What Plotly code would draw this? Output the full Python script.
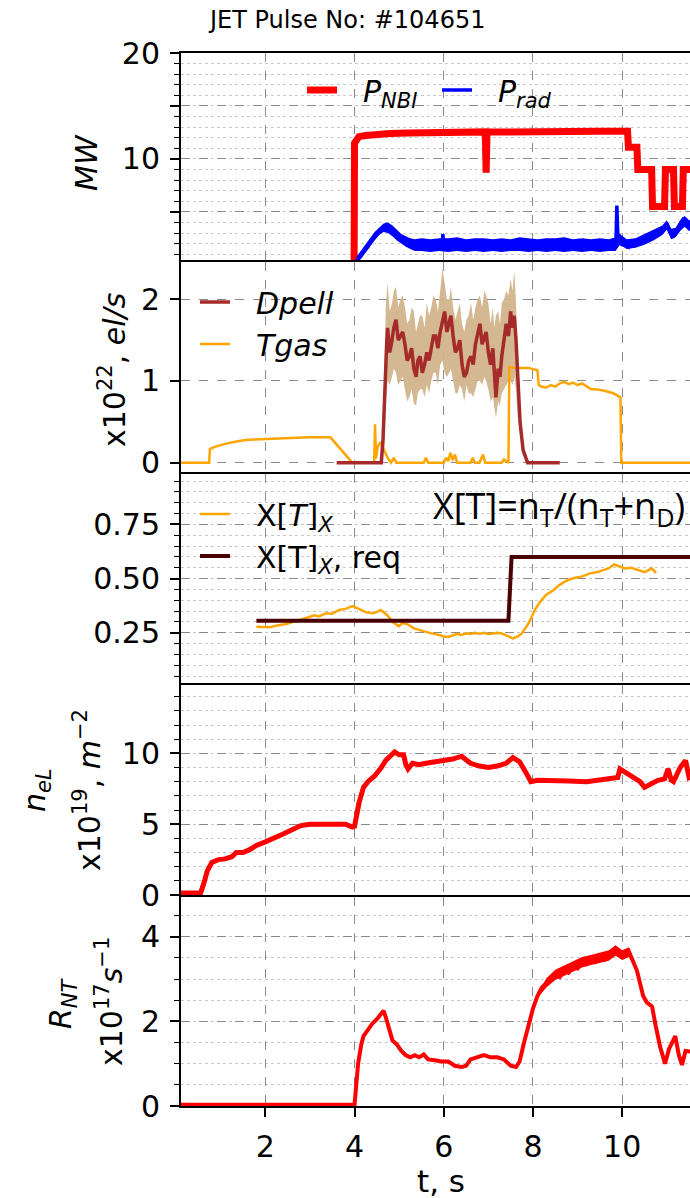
import plotly.graph_objects as go

# ---------------- data ----------------
P_NBI = [(0.1, 0), (3.99, 0), (4.0, 11.5), (4.04, 11.9), (4.1, 12.1), (4.25, 12.2), (4.5, 12.35),
         (4.8, 12.4), (5.2, 12.45), (5.6, 12.5), (6.0, 12.5), (6.5, 12.55), (6.93, 12.55), (6.95, 8.7),
         (6.97, 12.55), (7.5, 12.55), (8.0, 12.6), (8.5, 12.65), (9.0, 12.6), (9.5, 12.6), (10.12, 12.6),
         (10.14, 11.1), (10.33, 11.1), (10.35, 9.0), (10.66, 9.0), (10.68, 5.5), (10.95, 5.5), (10.97, 9.0),
         (11.15, 9.0), (11.17, 5.5), (11.35, 5.5), (11.37, 9.0), (11.6, 9.0)]
P_RAD = [(0.1, 0.0), (0.7, 0.0), (0.72, 0.2), (4.0, 0.2), (4.1, 0.6), (4.2, 1.1), (4.3, 1.7), (4.4, 2.4),
         (4.5, 2.8), (4.6, 3.3), (4.7, 3.7), (4.75, 3.3), (4.8, 3.5), (4.9, 2.9), (5.0, 2.7), (5.1, 2.3),
         (5.2, 2.2), (5.3, 1.7), (5.35, 2.2), (5.4, 1.6), (5.5, 2.1), (5.55, 1.5), (5.6, 2.0), (5.7, 1.5),
         (5.8, 2.1), (5.85, 1.6), (5.9, 2.0), (5.96, 1.6), (5.98, 2.9), (6.0, 1.8), (6.05, 1.5), (6.1, 2.1),
         (6.2, 1.6), (6.25, 2.2), (6.3, 1.5), (6.4, 2.1), (6.45, 1.6), (6.5, 2.0), (6.6, 1.5), (6.65, 2.1),
         (6.7, 1.6), (6.8, 2.0), (6.85, 1.5), (6.9, 2.2), (7.0, 1.5), (7.05, 2.0), (7.1, 1.6), (7.2, 2.1),
         (7.25, 1.5), (7.3, 2.1), (7.4, 1.6), (7.45, 2.2), (7.5, 1.6), (7.6, 2.1), (7.65, 1.6), (7.7, 2.3),
         (7.8, 1.6), (7.85, 2.1), (7.9, 1.7), (8.0, 2.0), (8.05, 1.5), (8.1, 2.1), (8.2, 1.6), (8.25, 2.2),
         (8.3, 1.6), (8.4, 2.0), (8.45, 1.5), (8.5, 2.1), (8.6, 1.6), (8.65, 2.2), (8.7, 1.6), (8.8, 2.1),
         (8.85, 1.5), (8.9, 2.0), (9.0, 1.6), (9.05, 2.2), (9.1, 1.6), (9.2, 2.0), (9.25, 1.5), (9.3, 2.1),
         (9.4, 1.6), (9.45, 2.1), (9.5, 1.6), (9.6, 2.0), (9.65, 1.5), (9.7, 2.1), (9.8, 1.6), (9.86, 2.0),
         (9.88, 5.6), (9.9, 3.0), (9.95, 2.3), (10.0, 1.8), (10.05, 2.2), (10.15, 1.7), (10.2, 2.1),
         (10.3, 1.9), (10.4, 2.4), (10.5, 2.3), (10.6, 2.8), (10.7, 2.7), (10.8, 3.2), (10.9, 3.3),
         (11.0, 3.9), (11.06, 3.2), (11.12, 2.6), (11.2, 3.1), (11.3, 3.9), (11.38, 4.4), (11.45, 3.7),
         (11.52, 3.9), (11.6, 3.8)]
# noise envelope of P_rad (min / max of the fast signal)
PRAD_ENV_T = [4.05, 4.15, 4.25, 4.35, 4.45, 4.55, 4.65, 4.75, 4.85, 4.95, 5.05, 5.15, 5.25, 5.35, 5.5,
              5.7, 5.9, 6.1, 6.3, 6.5, 6.7, 6.9, 7.1, 7.3, 7.5, 7.7, 7.9, 8.1, 8.3, 8.5, 8.7, 8.9, 9.1,
              9.3, 9.5, 9.7, 9.85, 9.95, 10.1, 10.3, 10.5, 10.7, 10.9, 11.0, 11.1, 11.2, 11.3, 11.4,
              11.5, 11.6]
PRAD_ENV_HI = [0.8, 1.4, 2.0, 2.6, 3.1, 3.5, 3.9, 4.0, 3.7, 3.3, 2.9, 2.7, 2.5, 2.4, 2.5, 2.4, 2.5,
               2.5, 2.6, 2.4, 2.5, 2.5, 2.4, 2.5, 2.4, 2.6, 2.5, 2.4, 2.5, 2.5, 2.6, 2.4, 2.5, 2.4,
               2.5, 2.4, 2.6, 2.9, 2.4, 2.5, 2.9, 3.3, 3.7, 4.2, 3.4, 3.5, 4.2, 4.6, 4.2, 4.2]
PRAD_ENV_LO = [0.3, 0.6, 1.2, 1.8, 2.3, 2.8, 3.1, 3.0, 2.7, 2.3, 2.0, 1.7, 1.5, 1.3, 1.3, 1.2, 1.3,
               1.2, 1.3, 1.2, 1.3, 1.2, 1.3, 1.2, 1.3, 1.3, 1.2, 1.3, 1.2, 1.3, 1.2, 1.3, 1.2, 1.3,
               1.2, 1.3, 1.3, 1.9, 1.5, 1.6, 1.9, 2.3, 2.8, 3.3, 2.4, 2.6, 3.2, 3.6, 3.2, 3.3]

DPELL = [(3.6, 0), (4.6, 0), (4.64, 0.3), (4.68, 1.0), (4.72, 1.45), (4.74, 1.65), (4.79, 1.35), (4.84, 1.5),
         (4.88, 1.65), (4.93, 1.75), (4.98, 1.5), (5.03, 1.55), (5.08, 1.6), (5.13, 1.45), (5.18, 1.25),
         (5.23, 1.3), (5.28, 1.4), (5.33, 1.15), (5.38, 1.05), (5.42, 1.25), (5.47, 1.3), (5.52, 1.1),
         (5.57, 1.2), (5.62, 1.35), (5.67, 1.25), (5.72, 1.4), (5.77, 1.55), (5.82, 1.55), (5.87, 1.4),
         (5.92, 1.6), (5.97, 1.75), (6.02, 1.85), (6.07, 1.6), (6.12, 1.7), (6.16, 1.8), (6.21, 1.55),
         (6.26, 1.35), (6.31, 1.4), (6.36, 1.5), (6.41, 1.2), (6.46, 1.05), (6.51, 1.1), (6.56, 1.25),
         (6.61, 1.3), (6.66, 1.2), (6.71, 1.45), (6.76, 1.6), (6.81, 1.7), (6.86, 1.45), (6.91, 1.55),
         (6.95, 1.6), (7.00, 1.35), (7.05, 1.2), (7.10, 1.4), (7.13, 1.1), (7.17, 0.8), (7.22, 1.15),
         (7.26, 1.05), (7.30, 1.3), (7.35, 1.5), (7.40, 1.7), (7.45, 1.55), (7.50, 1.85), (7.54, 1.65),
         (7.58, 1.8), (7.62, 1.5), (7.66, 1.0), (7.71, 0.5), (7.78, 0.15), (7.88, 0.0), (8.6, 0)]
BAND_T = [4.66, 4.70, 4.74, 4.79, 4.84, 4.88, 4.93, 4.98, 5.03, 5.08, 5.13, 5.18, 5.23, 5.28, 5.33, 5.38,
          5.42, 5.47, 5.52, 5.57, 5.62, 5.67, 5.72, 5.77, 5.82, 5.87, 5.92, 5.97, 6.02, 6.07, 6.12, 6.16,
          6.21, 6.26, 6.31, 6.36, 6.41, 6.46, 6.51, 6.56, 6.61, 6.66, 6.71, 6.76, 6.81, 6.86, 6.91, 6.95,
          7.00, 7.05, 7.10, 7.13, 7.17, 7.22, 7.26, 7.30, 7.35, 7.40, 7.45, 7.50, 7.54, 7.58, 7.62, 7.66]
BAND_HI = [0.8, 1.9, 2.2, 1.85, 1.95, 2.1, 2.15, 1.9, 2.0, 2.05, 1.9, 1.7, 1.75, 1.9, 1.85, 1.6,
           1.7, 1.8, 1.8, 1.65, 1.95, 1.8, 1.9, 2.05, 2.0, 1.85, 2.1, 2.38, 2.2, 2.0, 2.0, 2.15,
           1.9, 1.75, 1.85, 1.95, 1.7, 1.6, 1.75, 1.8, 1.95, 1.75, 1.9, 2.0, 2.05, 1.9, 2.1, 2.05,
           1.95, 1.7, 1.9, 1.65, 1.8, 1.85, 1.7, 1.95, 2.0, 2.1, 2.05, 2.25, 2.1, 2.35, 1.95, 1.3]
BAND_LO = [0.1, 0.7, 1.0, 0.95, 1.05, 1.15, 1.1, 0.95, 1.0, 1.05, 0.9, 0.75, 0.8, 0.9, 0.72, 0.7,
           0.85, 0.9, 0.9, 0.8, 0.95, 0.85, 1.0, 1.1, 1.1, 0.95, 1.2, 1.25, 1.1, 1.05, 1.1, 1.15,
           1.0, 0.85, 0.85, 0.95, 0.9, 0.75, 0.95, 0.85, 0.85, 0.8, 0.9, 1.0, 1.0, 0.95, 1.05, 1.0,
           0.9, 0.75, 0.8, 0.7, 0.55, 0.75, 0.7, 0.85, 0.9, 0.95, 1.0, 1.0, 0.95, 1.05, 0.9, 0.5]
TGAS = [(0.1, 0), (0.74, 0), (0.76, 0.17), (0.9, 0.2), (1.1, 0.23), (1.35, 0.26), (1.6, 0.28), (2.0, 0.29),
        (2.5, 0.3), (3.0, 0.31), (3.46, 0.31), (3.95, 0.0), (4.44, 0.0), (4.46, 0.47), (4.48, 0.05),
        (4.52, 0.2), (4.58, 0.25), (4.65, 0.17), (4.75, 0.05), (4.82, 0.0), (4.88, 0.06), (4.94, 0.0),
        (5.55, 0.0), (5.6, 0.06), (5.65, 0.0), (6.0, 0.0), (6.05, 0.06), (6.1, 0.02), (6.15, 0.12),
        (6.2, 0.03), (6.25, 0.1), (6.3, 0.0), (6.6, 0.0), (6.65, 0.06), (6.7, 0.0), (6.8, 0.0), (6.88, 0.1),
        (6.93, 0.0), (7.3, 0.0), (7.35, 0.04), (7.45, 0.0), (7.47, 1.17), (7.6, 1.16), (7.9, 1.16),
        (8.1, 1.13), (8.13, 0.95), (8.2, 0.93), (8.3, 0.92), (8.4, 0.95), (8.5, 0.93), (8.6, 0.97),
        (8.7, 0.99), (8.8, 0.96), (8.9, 0.98), (9.0, 0.95), (9.1, 0.97), (9.2, 0.93), (9.3, 0.9), (9.4, 0.9),
        (9.6, 0.88), (9.8, 0.85), (9.96, 0.8), (9.98, 0.0), (11.6, 0.0)]

XT = [(1.8, 0.278), (2.1, 0.275), (2.3, 0.285), (2.47, 0.29), (2.7, 0.305), (2.96, 0.32), (3.1, 0.33),
      (3.2, 0.325), (3.36, 0.34), (3.5, 0.338), (3.65, 0.355), (3.8, 0.36), (3.95, 0.373), (4.05, 0.365),
      (4.15, 0.355), (4.25, 0.345), (4.39, 0.34), (4.5, 0.345), (4.59, 0.355), (4.74, 0.33), (4.85, 0.3),
      (4.99, 0.28), (5.08, 0.295), (5.18, 0.29), (5.33, 0.27), (5.5, 0.26), (5.6, 0.255), (5.72, 0.247),
      (5.9, 0.24), (6.0, 0.232), (6.12, 0.232), (6.3, 0.245), (6.4, 0.24), (6.51, 0.247), (6.6, 0.244),
      (6.7, 0.25), (6.8, 0.245), (6.91, 0.25), (7.0, 0.243), (7.1, 0.245), (7.2, 0.25), (7.3, 0.247),
      (7.45, 0.235), (7.55, 0.224), (7.65, 0.232), (7.75, 0.247), (7.9, 0.293), (8.04, 0.355),
      (8.15, 0.39), (8.29, 0.424), (8.45, 0.445), (8.59, 0.47), (8.75, 0.49), (8.88, 0.5), (9.1, 0.51),
      (9.28, 0.524), (9.45, 0.53), (9.57, 0.539), (9.7, 0.548), (9.82, 0.565), (9.95, 0.555),
      (10.06, 0.547), (10.2, 0.55), (10.36, 0.539), (10.51, 0.53), (10.66, 0.547), (10.76, 0.527)]
XT_REQ = [(1.8, 0.305), (7.45, 0.305), (7.52, 0.6), (11.6, 0.6)]

NEL = [(0.1, 0.15), (0.55, 0.15), (0.62, 0.8), (0.7, 1.7), (0.8, 2.3), (0.95, 2.5), (1.1, 2.55), (1.25, 2.7),
       (1.35, 3.0), (1.5, 3.0), (1.65, 3.2), (1.8, 3.5), (2.0, 3.75), (2.2, 4.0), (2.4, 4.3), (2.6, 4.6),
       (2.8, 4.9), (3.0, 5.0), (3.3, 5.0), (3.6, 4.95), (3.8, 5.0), (3.95, 4.8), (4.0, 4.85), (4.1, 6.5),
       (4.2, 7.6), (4.3, 8.0), (4.45, 8.4), (4.6, 9.0), (4.7, 9.5), (4.8, 9.8), (4.9, 10.1), (5.0, 9.9),
       (5.1, 9.9), (5.15, 9.2), (5.2, 8.9), (5.3, 9.3), (5.45, 9.2), (5.6, 9.3), (5.8, 9.4), (6.0, 9.5),
       (6.2, 9.6), (6.4, 9.8), (6.5, 9.6), (6.6, 9.3), (6.8, 9.1), (7.0, 9.0), (7.2, 9.1), (7.4, 9.3),
       (7.55, 9.7), (7.7, 9.4), (7.85, 8.6), (7.95, 8.0), (8.1, 8.1), (8.4, 8.1), (8.8, 8.05), (9.2, 8.0),
       (9.5, 8.1), (9.8, 8.2), (9.9, 8.3), (9.95, 8.9), (10.05, 8.7), (10.2, 8.4), (10.4, 8.0), (10.5, 7.6),
       (10.6, 7.8), (10.8, 8.1), (10.95, 8.2), (11.03, 8.9), (11.1, 8.1), (11.15, 8.0), (11.3, 9.0),
       (11.42, 9.5), (11.5, 8.3), (11.6, 8.5)]

RNT = [(0.1, 0.03), (4.0, 0.03), (4.03, 0.4), (4.08, 1.0), (4.15, 1.45), (4.2, 1.65), (4.3, 1.8), (4.4, 1.95),
       (4.5, 2.05), (4.6, 2.2), (4.65, 2.25), (4.7, 2.1), (4.78, 1.8), (4.85, 1.55), (4.95, 1.45), (5.05, 1.3),
       (5.15, 1.2), (5.25, 1.15), (5.35, 1.2), (5.45, 1.15), (5.55, 1.22), (5.65, 1.1), (5.8, 1.08),
       (5.95, 1.05), (6.1, 1.05), (6.25, 0.95), (6.4, 0.92), (6.5, 0.95), (6.6, 1.1), (6.75, 1.15),
       (6.9, 1.2), (7.05, 1.15), (7.2, 1.15), (7.35, 1.1), (7.5, 0.95), (7.62, 0.92), (7.7, 1.05), (7.8, 1.5),
       (7.9, 1.9), (8.0, 2.3), (8.1, 2.6), (8.2, 2.8), (8.35, 2.95), (8.5, 3.1), (8.6, 3.05), (8.7, 3.2),
       (8.8, 3.15), (8.9, 3.3), (9.0, 3.25), (9.1, 3.4), (9.2, 3.35), (9.3, 3.45), (9.4, 3.4), (9.5, 3.5),
       (9.6, 3.45), (9.7, 3.55), (9.85, 3.7), (9.95, 3.6), (10.05, 3.55), (10.15, 3.65), (10.25, 3.4),
       (10.33, 3.2), (10.4, 2.9), (10.47, 2.6), (10.55, 2.45), (10.67, 2.35), (10.75, 1.9), (10.85, 1.4),
       (10.96, 1.0), (11.05, 1.35), (11.19, 1.65), (11.27, 1.2), (11.34, 0.97), (11.42, 1.3), (11.52, 1.29),
       (11.6, 1.3)]
RNT_ENV_T = [8.1, 8.3, 8.5, 8.7, 8.9, 9.1, 9.3, 9.5, 9.7, 9.85, 10.0, 10.15, 10.25]
RNT_ENV_HI = [2.65, 3.02, 3.22, 3.32, 3.42, 3.52, 3.57, 3.62, 3.68, 3.8, 3.68, 3.75, 3.45]
RNT_ENV_LO = [2.55, 2.8, 2.98, 3.08, 3.17, 3.27, 3.33, 3.38, 3.43, 3.55, 3.45, 3.52, 3.35]

X_TICKS = [2, 4, 6, 8, 10]
Y1_TICKS, Y1_TEXT = [0, 5, 10, 15, 20], ["0", "", "10", "", "20"]
Y2_TICKS = [0, 1, 2]
Y3_TICKS, Y3_TEXT = [0.25, 0.5, 0.75], ["0.25", "0.50", "0.75"]
Y4_TICKS = [0, 5, 10]
Y5_TICKS = [0, 2, 4]


def xy(pairs):
    return [p[0] for p in pairs], [p[1] for p in pairs]


GAP = "\u2002\u2009"   # spacing between legend sample line and its text

# ---------------- figure ----------------
fig = go.Figure()


def band(tt, lo, hi, color, xa, ya):
    fig.add_trace(go.Scatter(x=tt, y=lo, mode="lines", line=dict(width=0, color=color),
                             showlegend=False, xaxis=xa, yaxis=ya, hoverinfo="skip"))
    fig.add_trace(go.Scatter(x=tt, y=hi, mode="lines", line=dict(width=0, color=color),
                             fill="tonexty", fillcolor=color,
                             showlegend=False, xaxis=xa, yaxis=ya, hoverinfo="skip"))


t, v = xy(P_NBI)
fig.add_trace(go.Scatter(x=t, y=v, mode="lines", line=dict(color="red", width=7),
                         name=GAP + "<i>P</i><sub><i>NBI</i></sub>", xaxis="x", yaxis="y",
                         legend="legend", legendrank=1))
band(PRAD_ENV_T, PRAD_ENV_LO, PRAD_ENV_HI, "blue", "x", "y")
t, v = xy(P_RAD)
fig.add_trace(go.Scatter(x=t, y=v, mode="lines", line=dict(color="blue", width=3.5),
                         name=GAP + "<i>P</i><sub><i>rad</i></sub>", xaxis="x", yaxis="y",
                         legend="legend", legendrank=2))

# panel 2
band(BAND_T, BAND_LO, BAND_HI, "rgba(210,180,140,0.95)", "x2", "y2")
t, v = xy(TGAS)
fig.add_trace(go.Scatter(x=t, y=v, mode="lines", line=dict(color="orange", width=2.5),
                         name=GAP + "<i>Tgas</i>", xaxis="x2", yaxis="y2", legend="legend2",
                         legendrank=2))
t, v = xy(DPELL)
fig.add_trace(go.Scatter(x=t, y=v, mode="lines", line=dict(color="#a52a2a", width=3.5),
                         name=GAP + "<i>Dpell</i>", xaxis="x2", yaxis="y2", legend="legend2",
                         legendrank=1))

# panel 3
t, v = xy(XT)
fig.add_trace(go.Scatter(x=t, y=v, mode="lines", line=dict(color="orange", width=2.5),
                         name=GAP + "X[<i>T</i>]<sub><i>X</i></sub>", xaxis="x3", yaxis="y3",
                         legend="legend3", legendrank=1))
t, v = xy(XT_REQ)
fig.add_trace(go.Scatter(x=t, y=v, mode="lines", line=dict(color="#4a0000", width=4),
                         name=GAP + "X[T]<sub><i>X</i></sub>, req", xaxis="x3", yaxis="y3",
                         legend="legend3", legendrank=2))

# panel 4
t, v = xy(NEL)
fig.add_trace(go.Scatter(x=t, y=v, mode="lines", line=dict(color="red", width=5),
                         showlegend=False, xaxis="x4", yaxis="y4"))
# panel 5
band(RNT_ENV_T, RNT_ENV_LO, RNT_ENV_HI, "red", "x5", "y5")
t, v = xy(RNT)
fig.add_trace(go.Scatter(x=t, y=v, mode="lines", line=dict(color="red", width=4),
                         showlegend=False, xaxis="x5", yaxis="y5"))

# ---------------- layout ----------------
L, R, T, B = 181, 690, 53, 1106
W, H = R - L, B - T


def pxx(px):
    return (px - L) / W


def pyy(py):
    return (B - py) / H


FONT = "DejaVu Sans"
MAJ_GRID = "#8a8a8a"
MIN_GRID = "#c8c8c8"

domains = {1: [pyy(260), 1.0], 2: [pyy(472), pyy(262)], 3: [pyy(683), pyy(473.5)],
           4: [pyy(895), pyy(684.5)], 5: [0.0, pyy(896.5)]}
ranges = {1: [0.45, 20], 2: [-0.114, 2.456], 3: [0.018, 0.985], 4: [0, 14.86], 5: [0, 4.95]}
ticks = {1: (Y1_TICKS, Y1_TEXT), 2: (Y2_TICKS, [str(x) for x in Y2_TICKS]), 3: (Y3_TICKS, Y3_TEXT),
         4: (Y4_TICKS, [str(x) for x in Y4_TICKS]), 5: (Y5_TICKS, [str(x) for x in Y5_TICKS])}
minors = {1: 1, 2: None, 3: 0.05, 4: 1, 5: 0.5}

layout = dict(width=690, height=1198, paper_bgcolor="white", plot_bgcolor="white",
              margin=dict(l=L, r=0, t=T, b=1198 - B), showlegend=True,
              font=dict(family=FONT, size=30, color="black"))

for i in range(1, 6):
    xs = "" if i == 1 else str(i)
    ax = dict(domain=[0, 1], range=[0.11, 11.52], anchor="y" + xs,
              tickvals=X_TICKS, ticktext=[str(x) for x in X_TICKS],
              showgrid=True, gridcolor=MAJ_GRID, griddash="dash", gridwidth=1,
              showline=True, mirror=True, linecolor="black", linewidth=2, zeroline=False,
              showticklabels=(i == 5), ticks="outside" if i == 5 else "",
              ticklen=9, tickwidth=1.5, tickcolor="black",
              tickfont=dict(family=FONT, size=30, color="black"), ticklabelstandoff=4)
    if i != 1:
        ax["matches"] = "x"
    layout["xaxis" + xs] = ax
    tv, tt = ticks[i]
    ay = dict(domain=domains[i], range=ranges[i], anchor="x" + xs,
              tickmode="array", tickvals=tv, ticktext=tt,
              showgrid=True, gridcolor=MAJ_GRID, griddash="dash", gridwidth=1,
              showline=True, mirror=False, linecolor="black", linewidth=2, zeroline=False,
              ticks="outside", ticklen=9, tickwidth=1.5, tickcolor="black",
              tickfont=dict(family=FONT, size=30, color="black"), ticklabelstandoff=4)
    if minors[i]:
        ay["minor"] = dict(dtick=minors[i], tick0=0, ticks="outside", ticklen=5, tickwidth=1.2,
                           tickcolor="black", showgrid=True, gridcolor=MIN_GRID, griddash="dot",
                           gridwidth=1)
    layout["yaxis" + xs] = ay

layout["legend"] = dict(orientation="h", x=pxx(302), y=pyy(90), xanchor="left", yanchor="middle",
                        bgcolor="rgba(0,0,0,0)", font=dict(family=FONT, size=30),
                        entrywidth=90, entrywidthmode="pixels", itemclick=False,
                        traceorder="normal")
layout["legend2"] = dict(orientation="v", x=pxx(195), y=pyy(276), xanchor="left", yanchor="top",
                         bgcolor="rgba(0,0,0,0)", font=dict(family=FONT, size=30), itemclick=False,
                         traceorder="normal")
layout["legend3"] = dict(orientation="v", x=pxx(195), y=pyy(488), xanchor="left", yanchor="top",
                         bgcolor="rgba(0,0,0,0)", font=dict(family=FONT, size=30), itemclick=False,
                         traceorder="normal")


def ann(text, px, py, size=30, angle=0, xanchor="center", family=FONT):
    return dict(text=text, x=pxx(px), y=pyy(py), xref="paper", yref="paper", showarrow=False,
                textangle=angle, xanchor=xanchor, yanchor="middle",
                font=dict(family=family, size=size, color="black"))


layout["annotations"] = [
    ann("JET Pulse No: #104651", 346, 20, size=24),
    ann("<i>MW</i>", 86, 163, angle=-90),
    ann("x10<sup>22</sup>, <i>el/s</i>", 112, 370, angle=-90),
    ann("<i>n</i><sub><i>eL</i></sub>", 37, 790, angle=-90),
    ann("x10<sup>19</sup>, <i>m</i><sup>\u22122</sup>", 88, 790, angle=-90),
    ann("<i>R</i><sub><i>NT</i></sub>", 62, 1003, angle=-90),
    ann("x10<sup>17</sup><i>s</i><sup>\u22121</sup>", 109, 1002, angle=-90),
    ann("t, s", 441, 1181, size=31),
    ann("X[T]=n<sub>T</sub>/(n<sub>T</sub>+n<sub>D</sub>)", 431, 507, size=36, xanchor="left",
        family="Open Sans"),
]

fig.update_layout(**layout)
fig.write_html("out.html")
